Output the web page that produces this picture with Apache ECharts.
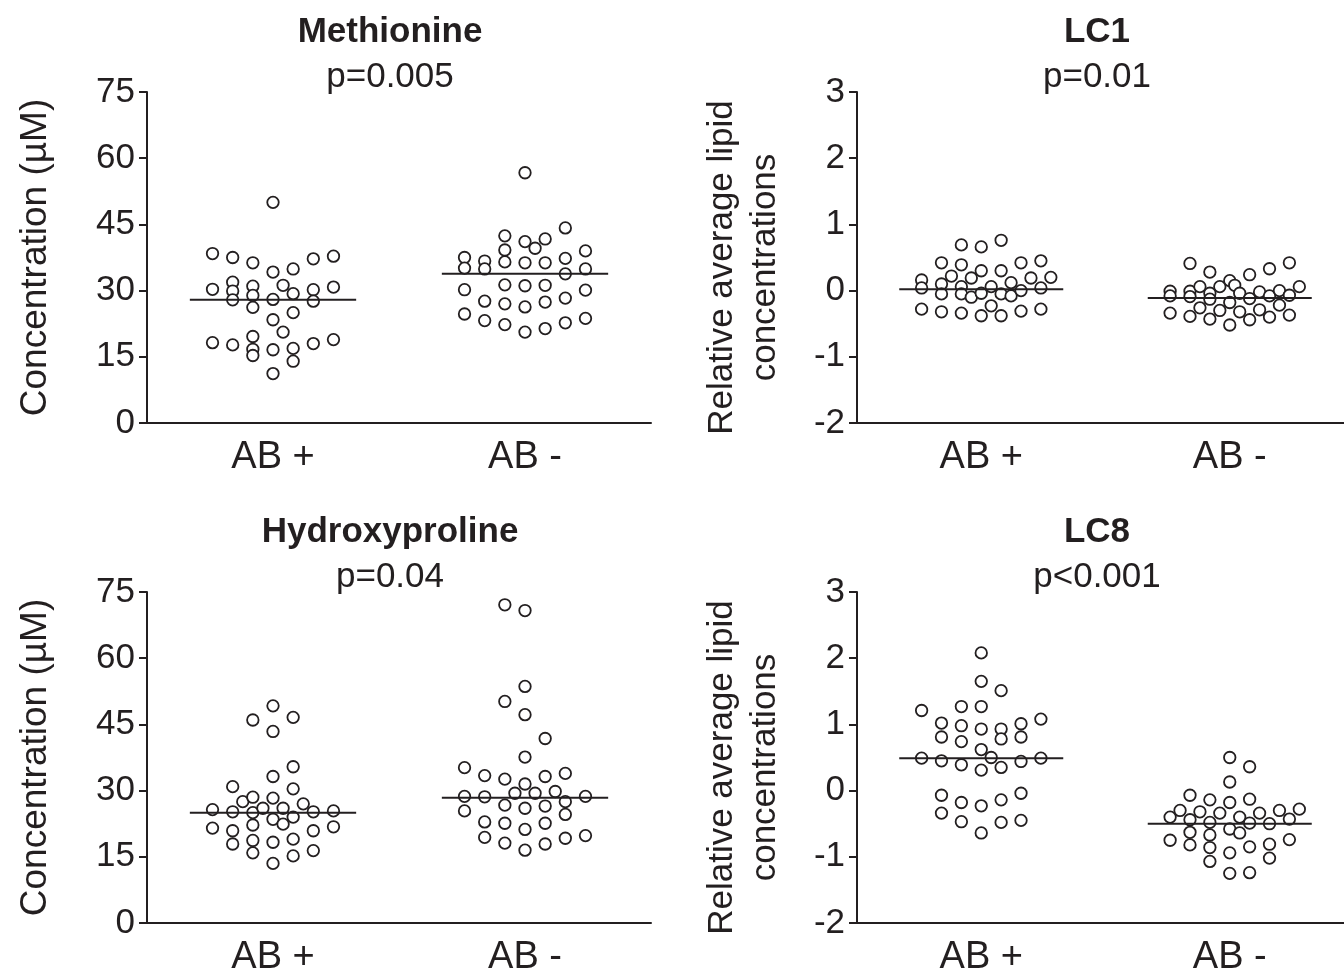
<!DOCTYPE html>
<html><head><meta charset="utf-8">
<script src="https://cdn.jsdelivr.net/npm/echarts@6/dist/echarts.min.js"></script>
<style>html,body{margin:0;padding:0;background:#fff}#c{width:1344px;height:971px}</style>
</head><body><div id="c"></div>
<script>
// ---------- data ----------
const categories = ['AB +', 'AB -'];
const panelTitles = ['Methionine', 'LC1', 'Hydroxyproline', 'LC8'];
const pLabels = ['p=0.005', 'p=0.01', 'p=0.04', 'p<0.001'];
const concAxisName = 'Concentration (µM)';
const lipidAxisName = 'Relative average lipid\nconcentrations';

// Methionine (µM)
const methAbPlus = [38.4,30.3,18.2, 37.5,31.9,29.9,27.9,17.7, 36.3,31.0,28.9,26.2,19.6,16.7,15.3, 50.0,34.2,28.0,23.4,16.6,11.2, 31.2,20.6, 34.9,29.3,25.0,16.9,14.0, 37.2,30.2,27.6,18.0, 37.8,30.8,18.9];
const methAbPlusJitter = [-3,-3,-3, -2,-2,-2,-2,-2, -1,-1,-1,-1,-1,-1,-1, 0,0,0,0,0,0, 0.5,0.5, 1,1,1,1,1, 2,2,2,2, 3,3,3];
const methAbMinus = [37.5,35.1,30.2,24.7, 36.7,34.9,27.6,23.2, 42.4,39.2,36.5,31.3,27.0,22.3, 56.7,41.1,36.3,31.1,26.3,20.6, 39.6, 41.7,36.3,31.2,27.4,21.4, 44.2,37.3,33.8,28.3,22.7, 39.0,34.9,30.1,23.7];
const methAbMinusJitter = [-3,-3,-3,-3, -2,-2,-2,-2, -1,-1,-1,-1,-1,-1, 0,0,0,0,0,0, 0.5, 1,1,1,1,1, 2,2,2,2,2, 3,3,3,3];
const methMedians = [27.9, 33.8];

// LC1 (relative)
const lc1AbPlus = [0.16,0.04,-0.28, 0.42,0.10,-0.05,-0.32, 0.22, 0.69,0.39,0.06,-0.05,-0.34, 0.19,-0.10, 0.66,0.30,-0.04,-0.38, 0.06,-0.23, 0.76,0.30,-0.05,-0.38, 0.12,-0.08, 0.42,0.0,-0.31, 0.19, 0.45,0.04,-0.28, 0.20];
const lc1AbPlusJitter = [-3,-3,-3, -2,-2,-2,-2, -1.5, -1,-1,-1,-1,-1, -0.5,-0.5, 0,0,0,0, 0.5,0.5, 1,1,1,1, 1.5,1.5, 2,2,2, 2.5, 3,3,3, 3.5];
const lc1AbMinus = [-0.01,-0.08,-0.34, 0.41,-0.01,-0.09,-0.39, 0.06,-0.26, 0.28,-0.04,-0.13,-0.43, 0.06,-0.30, 0.15,-0.18,-0.52, 0.08, -0.04,-0.32, 0.24,-0.12,-0.44, -0.02,-0.29, 0.33,-0.08,-0.40, 0.0,-0.22, 0.42,-0.07,-0.37, 0.06];
const lc1AbMinusJitter = [-3,-3,-3, -2,-2,-2,-2, -1.5,-1.5, -1,-1,-1,-1, -0.5,-0.5, 0,0,0, 0.25, 0.5,0.5, 1,1,1, 1.5,1.5, 2,2,2, 2.5,2.5, 3,3,3, 3.5];
const lc1Medians = [0.02, -0.11];

// Hydroxyproline (µM)
const hypAbPlus = [25.7,21.5, 30.9,25.2,20.9,17.9, 27.5, 46.0,28.5,25.0,22.2,18.7,15.9, 26.0, 49.2,43.4,33.2,28.3,23.5,18.3,13.5, 26.0,22.4, 46.6,35.4,30.4,24.0,19.0,15.2, 27.0, 25.2,20.9,16.4, 25.4,21.8];
const hypAbPlusJitter = [-3,-3, -2,-2,-2,-2, -1.5, -1,-1,-1,-1,-1,-1, -0.5, 0,0,0,0,0,0,0, 0.5,0.5, 1,1,1,1,1,1, 1.5, 2,2,2, 3,3];
const hypAbMinus = [35.2,28.7,25.4, 33.4,28.6,22.9,19.4, 72.1,50.2,32.6,26.7,22.6,18.1, 29.4, 70.8,53.6,47.2,37.6,31.5,26.0,21.2,16.5, 29.4, 41.8,33.2,26.5,22.6,17.9, 29.8, 33.9,27.5,24.6,19.2, 28.7,19.8];
const hypAbMinusJitter = [-3,-3,-3, -2,-2,-2,-2, -1,-1,-1,-1,-1,-1, -0.5, 0,0,0,0,0,0,0,0, 0.5, 1,1,1,1,1, 1.5, 2,2,2,2, 3,3];
const hypMedians = [25.0, 28.4];

// LC8 (relative)
const lc8AbPlus = [1.21,0.49, 1.02,0.81,0.45,-0.07,-0.34, 1.27,0.98,0.74,0.39,-0.18,-0.47, 2.08,1.65,1.27,0.93,0.62,0.31,-0.23,-0.64, 0.50, 1.51,0.93,0.78,0.35,-0.14,-0.48, 1.01,0.81,0.44,-0.04,-0.45, 1.08,0.49];
const lc8AbPlusJitter = [-3,-3, -2,-2,-2,-2,-2, -1,-1,-1,-1,-1,-1, 0,0,0,0,0,0,0,0, 0.5, 1,1,1,1,1,1, 2,2,2,2,2, 3,3];
const lc8AbMinus = [-0.40,-0.75, -0.30, -0.07,-0.44,-0.63,-0.82, -0.32, -0.14,-0.48,-0.67,-0.86,-1.07, -0.34, 0.50,0.13,-0.18,-0.58,-0.94,-1.25, -0.40,-0.64, 0.36,-0.13,-0.49,-0.85,-1.24, -0.34, -0.50,-0.81,-1.02, -0.30, -0.43,-0.74, -0.28];
const lc8AbMinusJitter = [-3,-3, -2.5, -2,-2,-2,-2, -1.5, -1,-1,-1,-1,-1, -0.5, 0,0,0,0,0,0, 0.5,0.5, 1,1,1,1,1, 1.5, 2,2,2, 2.5, 3,3, 3.5];
const lc8Medians = [0.49, -0.50];

// ---------- build ----------
const INK = '#231f20';
const FONT = 'Liberation Sans, Arial, sans-serif';
const SLOT = 0.08;      // x-units per beeswarm slot
const HALF_LINE = 0.33; // half-width of median bar (x units)

const panels = [
  {groups:[[methAbPlus,methAbPlusJitter],[methAbMinus,methAbMinusJitter]], med:methMedians, min:0, max:75, interval:15, name:concAxisName, nameGap:90, nameSize:37, namePad:0, left:147, top:92, width:504},
  {groups:[[lc1AbPlus,lc1AbPlusJitter],[lc1AbMinus,lc1AbMinusJitter]], med:lc1Medians, min:-2, max:3, interval:1, name:lipidAxisName, nameGap:70, nameSize:35, namePad:20, left:857, top:92, width:497},
  {groups:[[hypAbPlus,hypAbPlusJitter],[hypAbMinus,hypAbMinusJitter]], med:hypMedians, min:0, max:75, interval:15, name:concAxisName, nameGap:90, nameSize:37, namePad:0, left:147, top:592, width:504},
  {groups:[[lc8AbPlus,lc8AbPlusJitter],[lc8AbMinus,lc8AbMinusJitter]], med:lc8Medians, min:-2, max:3, interval:1, name:lipidAxisName, nameGap:70, nameSize:35, namePad:20, left:857, top:592, width:497}
];

const grid = [], xAxis = [], yAxis = [], series = [], title = [];
panels.forEach((p, i) => {
  grid.push({left:p.left, top:p.top, width:p.width, height:331, containLabel:false, outerBoundsMode:'none'});
  // visible category axis (labels/ticks)
  xAxis.push({type:'category', gridIndex:i, data:categories, boundaryGap:true,
    axisLine:{onZero:false, lineStyle:{color:INK, width:2}},
    axisTick:{alignWithLabel:true, length:8, lineStyle:{color:INK, width:2}},
    axisLabel:{color:INK, fontFamily:FONT, fontSize:38, margin:16},
    splitLine:{show:false}});
  // hidden numeric axis for placing points
  xAxis.push({type:'value', gridIndex:i, min:0, max:2, show:false, splitLine:{show:false}});
  yAxis.push({type:'value', gridIndex:i, min:p.min, max:p.max, interval:p.interval,
    name:p.name, nameLocation:'middle', nameGap:p.nameGap,
    nameTextStyle:{color:INK, fontFamily:FONT, fontSize:p.nameSize, lineHeight:43, padding:[0, p.namePad, 0, 0]},
    axisLine:{show:true, onZero:false, lineStyle:{color:INK, width:2}},
    axisTick:{show:true, length:8, lineStyle:{color:INK, width:2}},
    axisLabel:{color:INK, fontFamily:FONT, fontSize:35, margin:12},
    splitLine:{show:false}});
  p.groups.forEach((g, k) => {
    const center = k + 0.5;
    const vals = g[0], jit = g[1];
    series.push({type:'scatter', xAxisIndex:2*i+1, yAxisIndex:i,
      data: vals.map((v, j) => [center + jit[j]*SLOT, v]),
      symbol:'circle', symbolSize:11.5, z:2,
      itemStyle:{color:'#ffffff', borderColor:INK, borderWidth:1.8, opacity:1},
      emphasis:{disabled:true}, silent:true});
    series.push({type:'line', xAxisIndex:2*i+1, yAxisIndex:i,
      data:[[center - HALF_LINE, p.med[k]], [center + HALF_LINE, p.med[k]]],
      symbol:'none', z:3, lineStyle:{color:INK, width:2}, silent:true});
  });
  const cx = i % 2 === 0 ? 390 : 1097;
  const ty = i < 2 ? 0 : 500;
  title.push({text:panelTitles[i], left:cx, top:ty+15, textAlign:'center', padding:0,
    textStyle:{color:INK, fontFamily:FONT, fontSize:35, fontWeight:'bold'}});
  title.push({text:pLabels[i], left:cx, top:ty+60, textAlign:'center', padding:0,
    textStyle:{color:INK, fontFamily:FONT, fontSize:35, fontWeight:'normal'}});
});

const chart = echarts.init(document.getElementById('c'), null, {renderer:'canvas'});
chart.setOption({backgroundColor:'#ffffff', animation:false, title, grid, xAxis, yAxis, series});
</script></body></html>
